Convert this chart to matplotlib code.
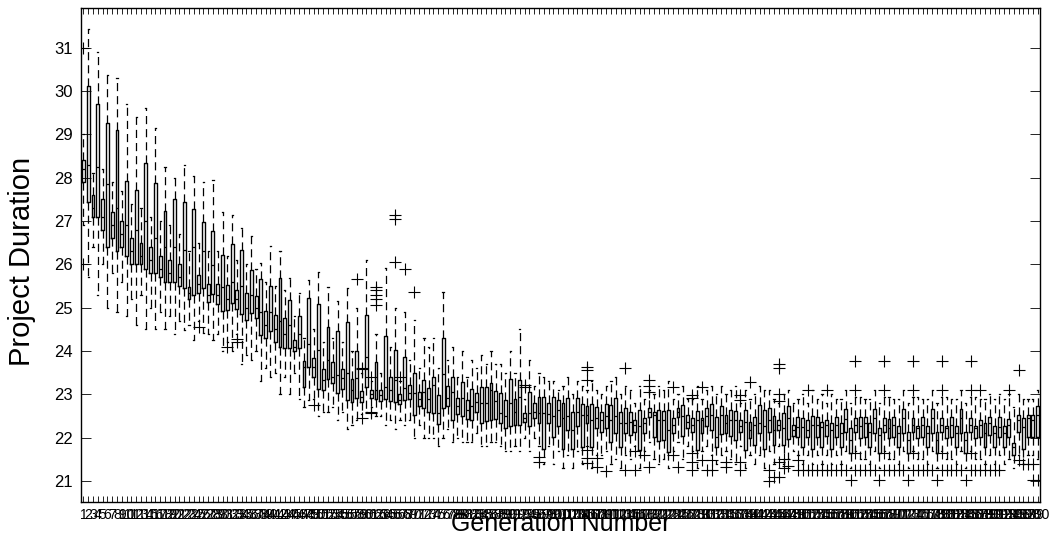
import numpy as np
import matplotlib
matplotlib.use('Agg')
import matplotlib.pyplot as plt

plt.rcParams['font.family'] = ['Liberation Sans', 'DejaVu Sans']

# Project duration per generation: box statistics for generations 1..200
generation = list(range(1, 201))

whisk_lo = [
    # gens 1-46
    26.9, 25.7, 26.4, 25.3, 26.0, 25.0, 25.8, 24.9, 25.6, 24.8,
    25.2, 24.6, 25.3, 24.5, 25.0, 24.5, 24.9, 24.5, 24.8, 24.4,
    24.7, 24.49, 24.6, 24.26, 24.7, 24.41, 24.4, 24.26, 24.4, 24.0,
    24.2, 24.0, 24.4, 23.7, 23.9, 23.8, 24.0, 23.3, 23.6, 23.4,
    23.5, 23.0, 23.4, 23.0, 23.5, 22.9,
    # gens 47-98
    22.7, 22.87, 22.9, 22.5, 22.6, 22.6, 22.7, 22.4, 22.6, 22.2,
    22.3, 22.4, 22.55, 22.6, 22.7, 22.5, 22.5, 22.3, 22.4, 22.2,
    22.4, 22.3, 22.4, 22.0, 22.3, 22.0, 22.0, 22.0, 21.8, 22.0,
    22.2, 21.9, 22.0, 21.9, 21.9, 21.9, 22.1, 21.8, 21.8, 21.9,
    21.9, 21.8, 21.7, 21.7, 21.8, 21.7, 22.0, 21.7, 22.0, 21.8,
    21.4, 21.8,
    # gens 99-146
    21.4, 21.7, 21.3, 21.6, 21.3, 21.7, 21.4, 21.8, 21.3, 21.6,
    21.6, 21.7, 21.4, 21.5, 21.3, 21.6, 21.5, 21.8, 21.3, 21.7,
    21.9, 21.5, 21.4, 21.5, 21.3, 21.7, 21.9, 21.5, 21.8, 21.7,
    21.3, 21.7, 21.8, 21.6, 21.4, 21.6, 21.7, 21.5, 21.4, 21.8,
    21.3, 21.6, 21.4, 21.6, 21.3, 21.7, 21.4, 21.8,
    # gens 147-200
    21.4, 21.5, 21.7, 21.6, 21.4, 21.6, 21.4, 21.6, 21.4, 21.6,
    21.4, 21.6, 21.4, 21.7, 21.3, 21.7, 21.5, 21.5, 21.4, 21.7,
    21.3, 21.7, 21.5, 21.5, 21.4, 21.7, 21.3, 21.7, 21.5, 21.5,
    21.4, 21.7, 21.3, 21.7, 21.5, 21.5, 21.4, 21.7, 21.3, 21.7,
    21.5, 21.5, 21.4, 21.6, 21.4, 21.6, 21.4, 21.5, 21.3, 21.6,
    21.4, 21.6, 21.6, 21.5,
]

box_q1 = [
    27.9, 27.43, 27.1, 27.1, 26.8, 26.4, 26.6, 26.3, 26.4, 26.2,
    26.0, 26.0, 26.0, 25.9, 25.8, 25.8, 25.7, 25.6, 25.6, 25.6,
    25.5, 25.46, 25.2, 25.30, 25.34, 25.46, 25.13, 25.32, 25.09, 24.93,
    24.95, 25.10, 24.97, 24.86, 24.72, 24.88, 24.76, 24.37, 24.30, 24.46,
    24.22, 24.10, 24.07, 24.07, 24.00, 24.07,
    23.16, 23.63, 23.41, 23.12, 23.10, 23.35, 23.26, 23.04, 23.12, 22.87,
    22.83, 22.92, 22.83, 23.18, 22.91, 22.89, 22.85, 22.89, 22.85, 22.82,
    22.77, 22.87, 22.89, 22.52, 22.72, 22.68, 22.60, 22.56, 22.31, 22.69,
    22.73, 22.41, 22.54, 22.49, 22.42, 22.41, 22.60, 22.35, 22.39, 22.41,
    22.42, 22.35, 22.22, 22.27, 22.29, 22.29, 22.37, 22.27, 22.45, 22.33,
    21.75, 22.35,
    22.02, 22.26, 21.75, 22.18, 21.75, 22.26, 21.79, 22.33, 21.79, 22.22,
    22.14, 22.22, 21.89, 22.10, 21.79, 22.10, 22.06, 22.14, 21.72, 22.10,
    22.47, 22.02, 21.92, 21.95, 21.68, 22.10, 22.47, 22.04, 22.22, 22.14,
    21.72, 22.10, 22.27, 22.18, 21.79, 22.09, 22.10, 22.04, 21.95, 22.14,
    21.72, 21.99, 21.83, 22.10, 21.75, 22.14, 21.83, 22.18,
    21.83, 21.96, 22.04, 22.02, 21.79, 22.01, 21.75, 22.02, 21.79, 22.04,
    21.75, 22.02, 21.79, 22.12, 21.65, 22.14, 21.99, 22.02, 21.79, 22.10,
    21.65, 22.14, 21.99, 22.02, 21.79, 22.10, 21.65, 22.14, 21.99, 22.02,
    21.79, 22.10, 21.65, 22.14, 21.99, 22.02, 21.79, 22.10, 21.65, 22.14,
    21.99, 22.02, 21.79, 22.06, 21.79, 22.02, 21.79, 22.02, 21.60, 22.12,
    21.75, 22.02, 22.02, 22.02,
]

box_med = [
    28.2, 28.3, 27.3, 28.25, 27.1, 27.85, 26.9, 27.3, 26.7, 26.9,
    26.3, 26.8, 26.2, 27.0, 26.1, 26.6, 25.9, 26.4, 25.8, 26.4,
    25.7, 26.33, 25.35, 26.4, 25.55, 26.3, 25.3, 25.99, 25.3, 25.48,
    25.2, 25.6, 25.2, 25.5, 25.0, 25.3, 25.0, 24.9, 24.6, 24.9,
    24.5, 24.7, 24.4, 24.6, 24.1, 24.4,
    23.64, 24.16, 23.64, 24.03, 23.33, 23.79, 23.41, 23.45, 23.37, 23.49,
    23.10, 23.37, 22.95, 23.87, 23.0, 23.10, 22.98, 23.16, 23.10, 23.33,
    22.88, 23.14, 23.02, 23.02, 22.9, 23.06, 22.89, 23.22, 22.56, 23.47,
    22.91, 23.06, 22.72, 22.91, 22.64, 22.72, 22.83, 22.79, 22.79, 23.10,
    22.85, 22.56, 22.49, 22.79, 22.60, 22.95, 22.45, 22.56, 22.60, 22.56,
    22.56, 22.55,
    22.49, 22.64, 22.45, 22.49, 22.18, 22.60, 22.52, 22.52, 22.41, 22.45,
    22.41, 22.49, 22.41, 22.49, 22.33, 22.33, 22.37, 22.29, 22.26, 22.33,
    22.60, 22.52, 22.41, 22.41, 22.18, 22.29, 22.60, 22.49, 22.37, 22.29,
    22.41, 22.41, 22.49, 22.52, 22.02, 22.52, 22.33, 22.41, 22.41, 22.26,
    22.37, 22.18, 22.29, 22.33, 22.26, 22.41, 22.18, 22.29,
    22.22, 22.45, 22.18, 22.25, 22.25, 22.18, 22.29, 22.29, 22.25, 22.29,
    22.18, 22.29, 22.10, 22.42, 21.95, 22.29, 22.27, 22.33, 22.14, 22.45,
    22.06, 22.29, 22.22, 22.29, 22.10, 22.45, 21.95, 22.29, 22.22, 22.29,
    22.10, 22.45, 21.95, 22.29, 22.22, 22.29, 22.10, 22.45, 21.95, 22.29,
    22.22, 22.29, 22.10, 22.33, 22.10, 22.25, 22.10, 22.29, 21.79, 22.41,
    22.25, 22.45, 22.41, 22.52,
]

box_q3 = [
    28.4, 30.12, 27.6, 29.7, 27.5, 29.27, 27.2, 29.1, 27.0, 27.93,
    26.6, 27.72, 26.5, 28.34, 26.4, 27.88, 26.2, 27.24, 26.1, 27.5,
    26.0, 27.45, 25.48, 27.28, 25.75, 26.99, 25.55, 26.77, 25.55, 26.22,
    25.52, 26.47, 25.41, 26.33, 25.35, 25.87, 25.26, 25.66, 24.93, 25.50,
    24.83, 25.68, 24.76, 25.18, 24.25, 24.81,
    23.76, 25.22, 23.83, 25.08, 23.58, 24.56, 23.74, 24.46, 23.59, 24.66,
    23.35, 23.99, 23.08, 24.83, 23.10, 23.74, 23.10, 24.35, 23.39, 24.03,
    23.0, 23.87, 23.21, 23.49, 23.05, 23.33, 23.15, 23.41, 22.99, 24.29,
    23.19, 23.39, 22.91, 23.28, 22.87, 23.12, 23.04, 23.18, 23.18, 23.26,
    23.08, 23.04, 22.87, 23.36, 22.89, 23.33, 22.56, 23.06, 22.79, 22.93,
    22.95, 22.79,
    22.95, 22.87, 22.79, 22.91, 22.60, 22.91, 22.78, 22.73, 22.78, 22.70,
    22.60, 22.78, 22.75, 22.91, 22.60, 22.68, 22.60, 22.41, 22.64, 22.45,
    22.68, 22.60, 22.64, 22.62, 22.64, 22.45, 22.68, 22.75, 22.52, 22.45,
    22.62, 22.45, 22.68, 22.78, 22.47, 22.72, 22.52, 22.65, 22.62, 22.41,
    22.64, 22.37, 22.47, 22.75, 22.64, 22.68, 22.50, 22.41,
    22.56, 22.72, 22.29, 22.47, 22.45, 22.41, 22.50, 22.47, 22.37, 22.41,
    22.35, 22.47, 22.33, 22.66, 22.22, 22.45, 22.47, 22.47, 22.33, 22.66,
    22.22, 22.45, 22.42, 22.47, 22.27, 22.66, 22.14, 22.45, 22.27, 22.47,
    22.27, 22.66, 22.12, 22.45, 22.27, 22.47, 22.27, 22.66, 22.12, 22.45,
    22.27, 22.41, 22.35, 22.47, 22.27, 22.47, 22.27, 22.42, 21.87, 22.52,
    22.45, 22.52, 22.52, 22.72,
]

whisk_hi = [
    29.0, 31.43, 28.1, 30.9, 28.2, 30.38, 27.9, 30.3, 27.7, 29.7,
    27.4, 29.4, 27.3, 29.6, 27.1, 29.15, 27.0, 28.26, 26.9, 28.0,
    26.7, 28.3, 26.3, 28.03, 26.5, 27.91, 26.3, 27.95, 26.3, 27.22,
    26.2, 27.14, 26.1, 26.84, 26.0, 26.66, 25.9, 26.03, 25.6, 26.43,
    25.5, 26.32, 25.4, 25.68, 24.8, 25.35,
    24.3, 25.64, 24.5, 25.83, 24.2, 25.49, 24.3, 25.16, 24.2, 25.45,
    24.0, 25.0, 23.5, 26.10, 23.3, 24.4, 23.5, 25.91, 24.1, 25.0,
    23.3, 24.9, 23.8, 24.72, 23.6, 24.3, 24.1, 24.3, 23.6, 25.37,
    23.8, 24.1, 23.4, 24.0, 23.4, 23.8, 23.6, 23.9, 23.7, 24.0,
    23.7, 23.7, 23.5, 24.0, 23.5, 24.5, 22.9, 23.8, 23.2, 23.5,
    23.4, 23.3,
    23.3, 23.1, 23.2, 23.4, 23.0, 23.3, 23.2, 23.1, 23.3, 23.1,
    23.0, 23.2, 23.3, 23.4, 23.0, 23.2, 23.1, 22.8, 23.2, 22.9,
    23.1, 23.0, 23.2, 23.1, 23.3, 22.9, 23.0, 23.2, 22.9, 22.9,
    23.2, 22.9, 23.1, 23.2, 23.0, 23.2, 23.0, 23.1, 23.2, 22.8,
    23.1, 22.9, 23.0, 23.2, 23.1, 23.1, 22.9, 22.8,
    23.0, 23.1, 22.8, 22.9, 23.0, 22.8, 23.1, 22.9, 23.0, 22.8,
    23.0, 22.9, 22.9, 23.1, 22.8, 22.95, 22.95, 22.9, 22.9, 23.1,
    22.8, 22.95, 22.95, 22.9, 22.9, 23.1, 22.8, 22.95, 22.95, 22.9,
    22.9, 23.1, 22.8, 22.95, 22.95, 22.9, 22.9, 23.1, 22.8, 22.95,
    22.95, 22.9, 22.9, 23.0, 22.9, 23.0, 22.9, 23.0, 22.7, 23.0,
    22.9, 22.9, 22.9, 23.1,
]

# outliers: generation number and duration
flier_gen = [
    1, 1, 25, 31, 33, 33, 49, 58, 59, 59, 59, 61, 61, 61,
    62, 62, 62, 62, 62, 66, 66, 66, 67, 68, 70, 93, 93, 96, 96,
    106, 106, 106, 106, 106, 106, 108, 108, 110, 114, 114, 116, 116, 118,
    119, 119, 119, 119, 124, 124, 125, 128, 128, 128, 128, 128, 130, 130,
    131, 132, 132, 135, 135, 138, 138, 138, 138, 140, 144, 144, 145,
    146, 146, 146, 146, 146, 146, 147, 147, 148, 150, 150, 151, 152, 152,
    153, 154, 155, 156, 156, 157, 158, 159, 160, 161,
    162, 162, 162, 162, 163, 164, 165, 166, 167,
    168, 168, 168, 168, 169, 170, 171, 172, 173,
    174, 174, 174, 174, 175, 176, 177, 178, 179,
    180, 180, 180, 180, 181, 182, 183, 184, 185,
    186, 186, 186, 186, 187, 188, 188, 189, 190, 191, 192,
    194, 196, 196, 197, 198, 199, 199, 200,
]
flier_val = [
    31.0, 26.0, 24.56, 24.09, 24.28, 24.22, 22.75, 25.66, 23.62, 23.58, 22.45, 23.41, 22.60, 22.57,
    25.49, 25.40, 25.30, 25.20, 25.06, 27.14, 27.06, 26.05, 23.41, 25.89, 25.37, 23.22, 23.18, 21.44, 21.55,
    23.64, 23.56, 23.33, 21.72, 21.52, 21.41, 21.52, 21.33, 21.22, 23.60, 21.25, 21.70, 21.25, 21.60,
    23.33, 23.20, 23.05, 21.33, 23.18, 21.60, 21.33, 22.99, 22.91, 21.65, 21.45, 21.25, 23.18, 21.49,
    21.25, 21.49, 21.25, 21.45, 21.33, 22.99, 22.87, 21.45, 21.25, 23.29, 21.25, 20.99, 21.10,
    23.70, 23.60, 23.00, 22.85, 21.45, 21.10, 21.50, 21.30, 21.35, 21.48, 21.25, 21.25, 23.10, 21.25,
    21.25, 21.25, 21.25, 23.10, 21.25, 21.25, 21.25, 21.25, 21.25, 21.02,
    23.76, 23.10, 21.64, 21.25, 21.25, 21.25, 21.25, 21.25, 21.02,
    23.76, 23.10, 21.64, 21.25, 21.25, 21.25, 21.25, 21.25, 21.02,
    23.76, 23.10, 21.64, 21.25, 21.25, 21.25, 21.25, 21.25, 21.02,
    23.76, 23.10, 21.64, 21.25, 21.25, 21.25, 21.25, 21.25, 21.02,
    23.76, 23.10, 21.64, 21.25, 21.25, 23.10, 21.25, 21.25, 21.25, 21.25, 21.25,
    23.10, 23.56, 21.48, 21.40, 21.40, 21.40, 21.02, 21.02,
]

y_ticks = [21, 22, 23, 24, 25, 26, 27, 28, 29, 30, 31]

stats = []
for i, g in enumerate(generation):
    stats.append({
        'whislo': whisk_lo[i], 'q1': box_q1[i], 'med': box_med[i],
        'q3': box_q3[i], 'whishi': whisk_hi[i],
        'fliers': [v for fg, v in zip(flier_gen, flier_val) if fg == g],
    })

fig = plt.figure(figsize=(10.54, 5.44), dpi=100)
ax = fig.add_axes([0.0769, 0.0772, 0.9099, 0.9081])

ax.bxp(stats, positions=generation, widths=0.6, capwidths=0.25,
       boxprops=dict(color='k', lw=1.0),
       medianprops=dict(color='k', lw=0.9),
       whiskerprops=dict(color='k', lw=0.9, linestyle=(0, (6.5, 4))),
       capprops=dict(color='k', lw=0.9),
       flierprops=dict(marker='+', markersize=8, markeredgecolor='k',
                       markeredgewidth=0.8))

ax.set_xlim(0.5, 200.5)
ax.set_ylim(20.515, 31.92)
ax.set_xticks(generation)
ax.set_xticklabels([str(g) for g in generation], fontsize=10)
ax.set_yticks(y_ticks)
ax.set_yticklabels([str(t) for t in y_ticks], fontsize=12)
ax.tick_params(axis='x', direction='in', length=4, width=0.6, top=True, pad=4)
ax.tick_params(axis='y', direction='in', length=7, width=0.6, right=True, pad=6)
for sp in ax.spines.values():
    sp.set_linewidth(1.0)

ax.set_xlabel('Generation Number', fontsize=18)
ax.xaxis.set_label_coords(0.5, -0.02)
ax.set_ylabel('Project Duration', fontsize=21)
ax.yaxis.set_label_coords(-0.047, 0.486)

fig.savefig('out.png', dpi=100)
